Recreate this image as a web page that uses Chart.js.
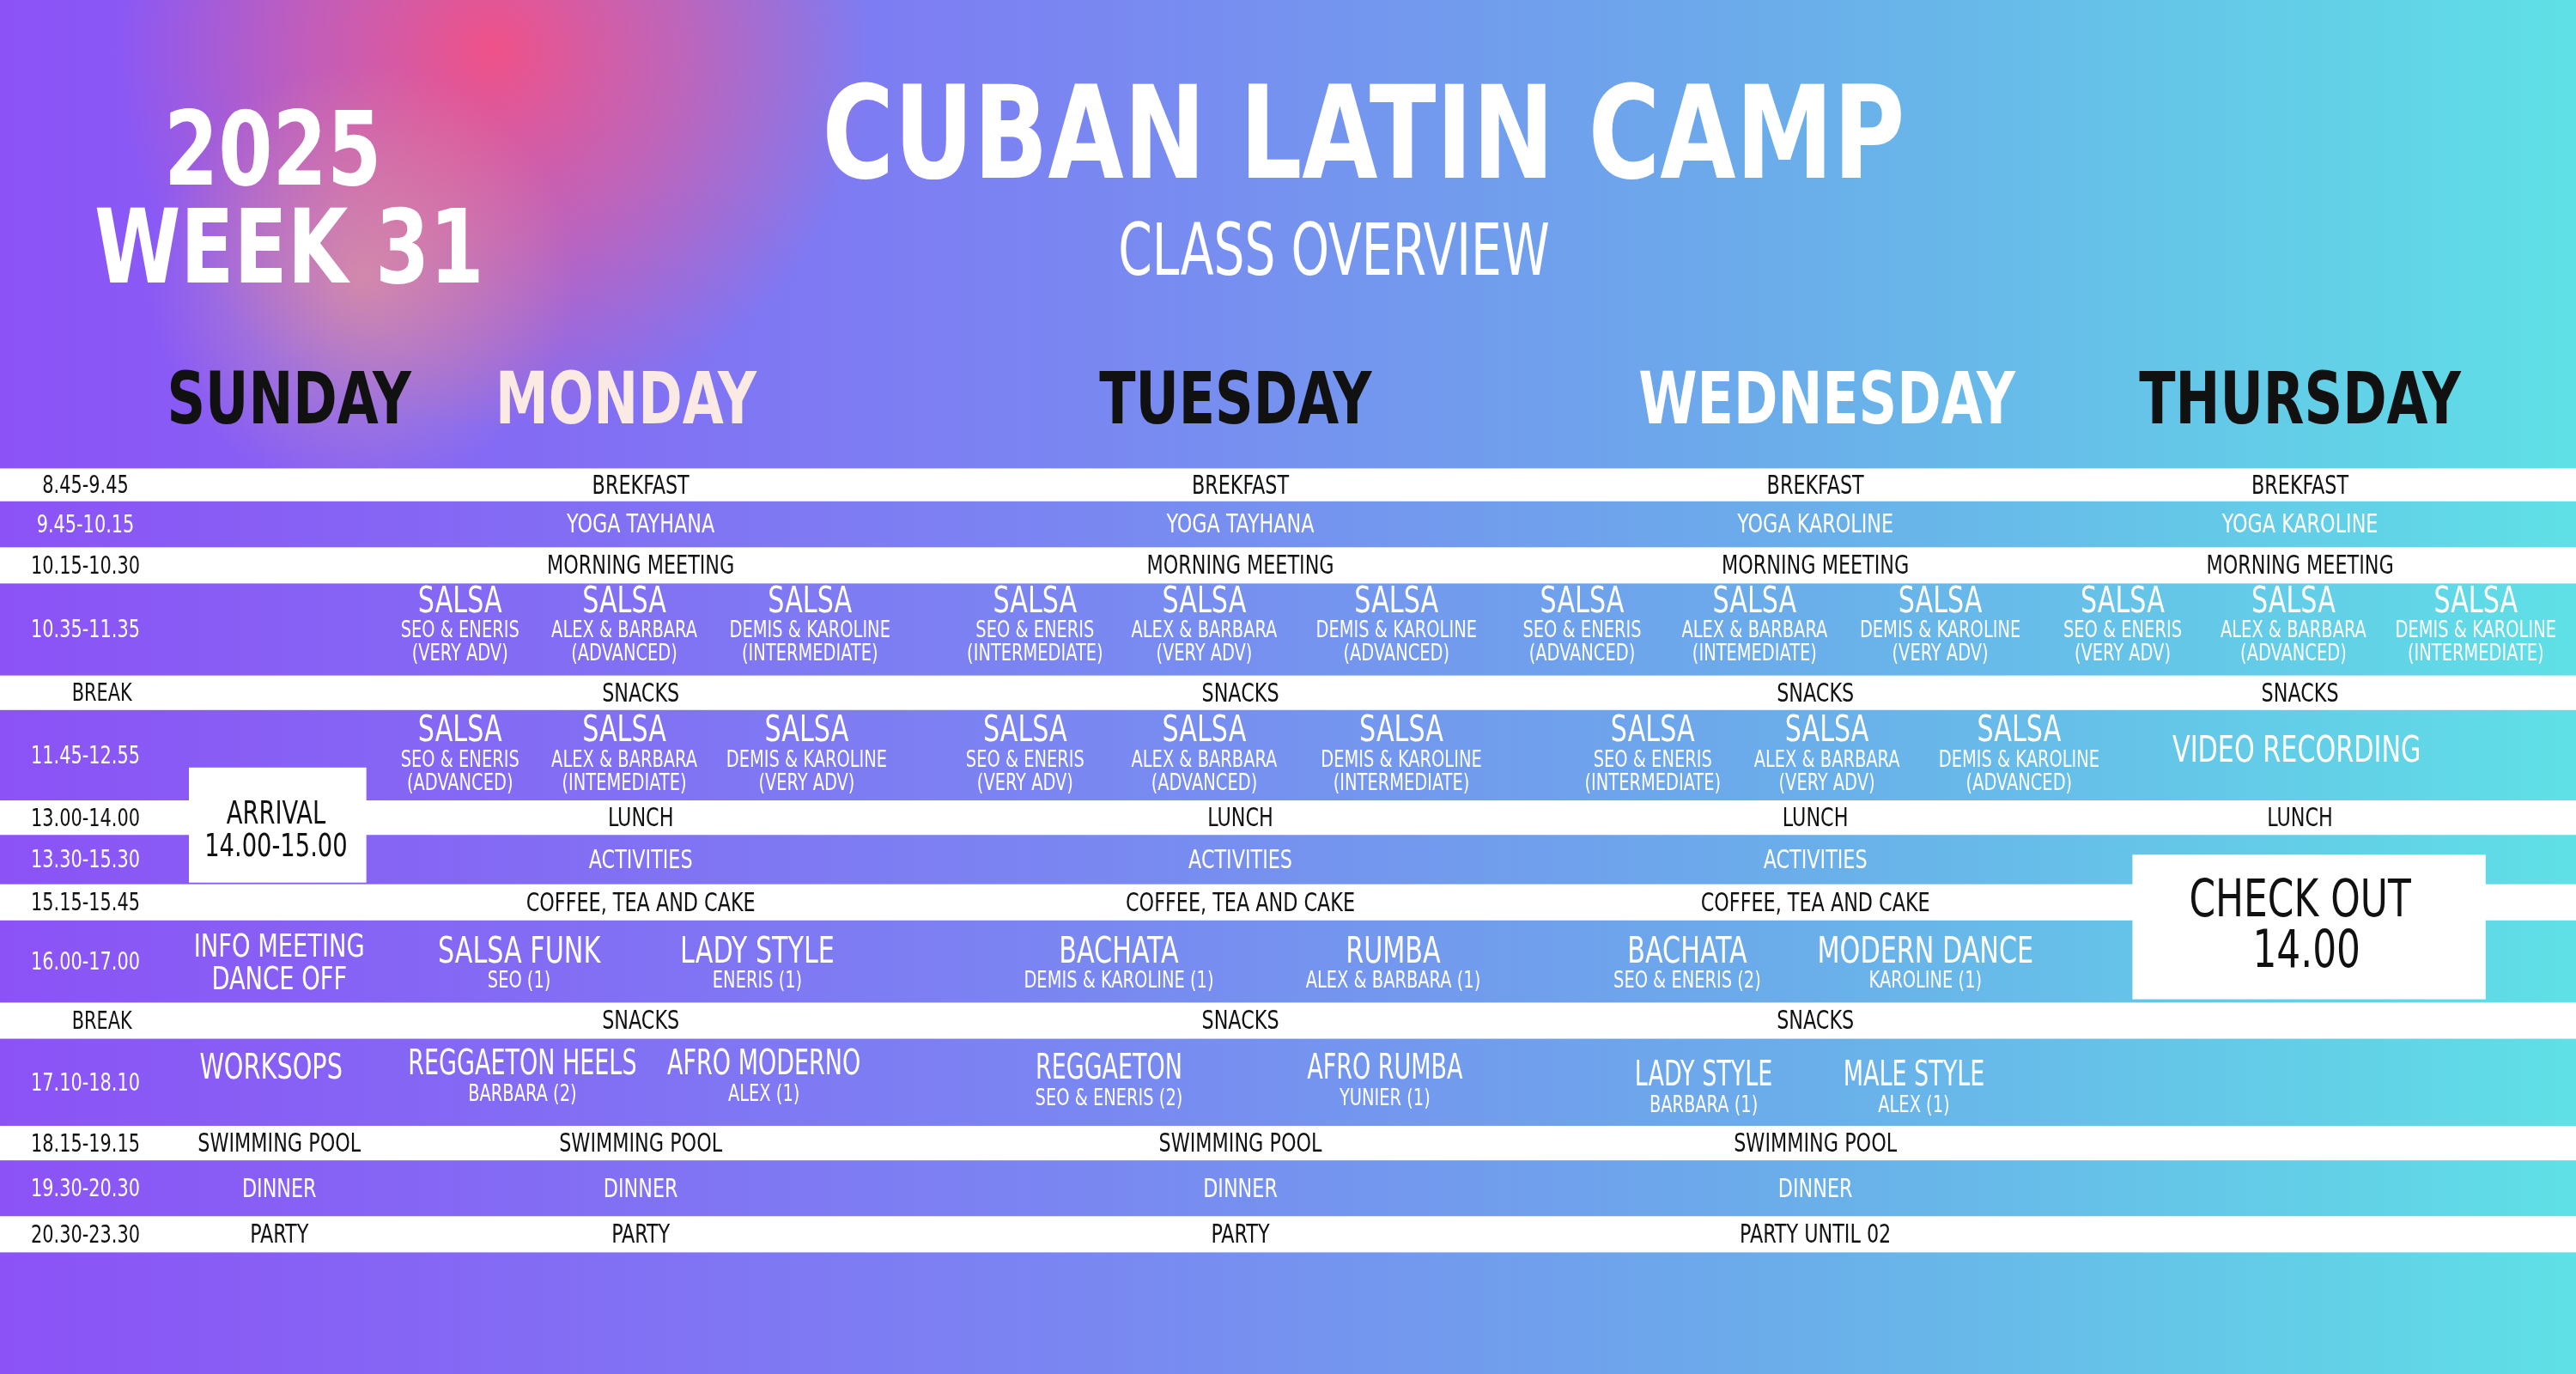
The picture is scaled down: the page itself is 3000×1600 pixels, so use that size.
<!DOCTYPE html>
<html><head><meta charset="utf-8">
<script src="https://cdn.jsdelivr.net/npm/chart.js@4.4.1/dist/chart.umd.min.js"></script>
<style>html,body{margin:0;padding:0;background:#7a80f0}canvas{display:block}</style>
</head><body>
<canvas id="c" width="3000" height="1600" style="width:3000px;height:1600px"></canvas>
<script>
// ---------- DATA ----------
const title = 'CUBAN LATIN CAMP';
const subtitle = 'CLASS OVERVIEW';
const yearLabel = '2025';
const weekLabel = 'WEEK 31';
const days = ['SUNDAY','MONDAY','TUESDAY','WEDNESDAY','THURSDAY'];
const times = ['8.45-9.45','9.45-10.15','10.15-10.30','10.35-11.35','BREAK','11.45-12.55','13.00-14.00','13.30-15.30','15.15-15.45','16.00-17.00','BREAK','17.10-18.10','18.15-19.15','19.30-20.30','20.30-23.30'];
// single-text rows: [row, sunday, monday, tuesday, wednesday, thursday]
const simpleRows = [
 [0,'','BREKFAST','BREKFAST','BREKFAST','BREKFAST'],
 [1,'','YOGA TAYHANA','YOGA TAYHANA','YOGA KAROLINE','YOGA KAROLINE'],
 [2,'','MORNING MEETING','MORNING MEETING','MORNING MEETING','MORNING MEETING'],
 [4,'','SNACKS','SNACKS','SNACKS','SNACKS'],
 [6,'','LUNCH','LUNCH','LUNCH','LUNCH'],
 [7,'','ACTIVITIES','ACTIVITIES','ACTIVITIES',''],
 [8,'','COFFEE, TEA AND CAKE','COFFEE, TEA AND CAKE','COFFEE, TEA AND CAKE',''],
 [10,'','SNACKS','SNACKS','SNACKS',''],
 [12,'SWIMMING POOL','SWIMMING POOL','SWIMMING POOL','SWIMMING POOL',''],
 [13,'DINNER','DINNER','DINNER','DINNER',''],
 [14,'PARTY','PARTY','PARTY','PARTY UNTIL 02','']
];
const teachers = ['SEO & ENERIS','ALEX & BARBARA','DEMIS & KAROLINE'];
const salsaLevels1 = [['(VERY ADV)','(ADVANCED)','(INTERMEDIATE)'],['(INTERMEDIATE)','(VERY ADV)','(ADVANCED)'],['(ADVANCED)','(INTEMEDIATE)','(VERY ADV)'],['(VERY ADV)','(ADVANCED)','(INTERMEDIATE)']];
const salsaLevels2 = [['(ADVANCED)','(INTEMEDIATE)','(VERY ADV)'],['(VERY ADV)','(ADVANCED)','(INTERMEDIATE)'],['(INTERMEDIATE)','(VERY ADV)','(ADVANCED)']];
const afternoonClasses = [ // row 9
 [['SALSA FUNK','SEO (1)'],['LADY STYLE','ENERIS (1)']],
 [['BACHATA','DEMIS & KAROLINE (1)'],['RUMBA','ALEX & BARBARA (1)']],
 [['BACHATA','SEO & ENERIS (2)'],['MODERN DANCE','KAROLINE (1)']]
];
const eveningClasses = [ // row 11
 [['REGGAETON HEELS','BARBARA (2)'],['AFRO MODERNO','ALEX (1)']],
 [['REGGAETON','SEO & ENERIS (2)'],['AFRO RUMBA','YUNIER (1)']],
 [['LADY STYLE','BARBARA (1)'],['MALE STYLE','ALEX (1)']]
];
const sundayItems = ['ARRIVAL','14.00-15.00','INFO MEETING','DANCE OFF','WORKSOPS'];
const thursdayItems = ['VIDEO RECORDING','CHECK OUT','14.00'];

// ---------- LAYOUT (reference units 1568x836) ----------
const L = {
 rowTop:[285,305,333,355,411,432,487,508,538,560,610,632,685,706,740], rowBot:762,
 dayX:[170,390,755,1105,1400], headX:[176,381,752,1112,1400],
 sub3:[[280,380,493],[630,733,850],[963,1068,1181],[1292,1396,1507]],
 sub3b:[[280,380,491],[624,733,853],[1006,1112,1229]],
 sub2:[[316,461],[681,848],[1027,1172]],
 sub2b:[[318,465],[675,843],[1037,1165]]
};
const FONT = '"DejaVu Sans Condensed","Liberation Sans Narrow",sans-serif';

const schedulePlugin = {
 id:'schedule',
 beforeDraw(ch){
  const c=ch.ctx, W=ch.width, H=ch.height;
  const g=c.createLinearGradient(0,0,W,0);
  g.addColorStop(0,'#8c52f6');g.addColorStop(0.4,'#7b84f2');g.addColorStop(0.7,'#6aaeea');g.addColorStop(1,'#5fe0e6');
  c.fillStyle=g;c.fillRect(0,0,W,H);
  const k=W/1568;
  let r=c.createRadialGradient(300*k,30*k,0,300*k,30*k,230*k);
  r.addColorStop(0,'rgba(245,80,130,0.95)');r.addColorStop(0.5,'rgba(240,90,140,0.55)');r.addColorStop(1,'rgba(240,90,140,0)');
  c.fillStyle=r;c.fillRect(0,0,W,H);
  r=c.createRadialGradient(220*k,170*k,0,220*k,170*k,130*k);
  r.addColorStop(0,'rgba(245,170,140,0.55)');r.addColorStop(1,'rgba(245,170,140,0)');
  c.fillStyle=r;c.fillRect(0,0,W,H);
 },
 afterDraw(ch){
  const c=ch.ctx, X=ch.scales.x, Y=ch.scales.y, k=ch.width/1568;
  const px=v=>X.getPixelForValue(v), py=v=>Y.getPixelForValue(v);
  const rect=(x0,y0,x1,y1,col)=>{c.fillStyle=col;c.fillRect(px(x0),py(y0),px(x1)-px(x0),py(y1)-py(y0));};
  const txt=(s,x,y,size,col,weight,sq)=>{c.save();c.translate(px(x),py(y));c.scale(sq||0.8,1);c.font=(weight||'normal')+' '+Math.round(size*k)+'px '+FONT;c.fillStyle=col;c.textAlign='center';c.textBaseline='middle';c.fillText(s,0,0);c.restore();};
  const whiteRows=[0,2,4,6,8,10,12,14];
  whiteRows.forEach(i=>rect(0,L.rowTop[i],1568,L.rowTop[i+1]!==undefined?L.rowTop[i+1]:L.rowBot,'#ffffff'));
  rect(115,467,223,537,'#ffffff');
  rect(1298,520,1513,608,'#ffffff');
  const mid=i=>(L.rowTop[i]+(i+1<L.rowTop.length?L.rowTop[i+1]:L.rowBot))/2;
  const isW=i=>whiteRows.includes(i);
  times.forEach((t,i)=>txt(t,i===4||i===10?62:52,mid(i)+1,15,isW(i)?'#111':'#fff'));
  txt(title,830,88,78,'#fff','bold',0.85);
  txt(subtitle,812,156,44,'#fff','normal',0.75);
  txt(yearLabel,166,96,62,'#fff','bold',0.85);
  txt(weekLabel,176,156,62,'#fff','bold',0.85);
  const hc=['#111','#fbe9e4','#111','#fff','#111'];
  days.forEach((d,i)=>txt(d,L.headX[i],246,44,hc[i],'bold',0.82));
  simpleRows.forEach(r=>{const i=r[0];for(let d=0;d<5;d++){if(r[d+1])txt(r[d+1],L.dayX[d],mid(i)+1,16,isW(i)?'#111':'#fff');}});
  salsaLevels1.forEach((lv,d)=>lv.forEach((l,j)=>{const x=L.sub3[d][j];txt('SALSA',x,367,22,'#fff');txt(teachers[j],x,384,14,'#fff','normal',0.8);txt(l,x,398,14,'#fff','normal',0.8);}));
  salsaLevels2.forEach((lv,d)=>lv.forEach((l,j)=>{const x=L.sub3b[d][j];txt('SALSA',x,445,22,'#fff');txt(teachers[j],x,463,14,'#fff','normal',0.8);txt(l,x,477,14,'#fff','normal',0.8);}));
  txt(thursdayItems[0],1398,458,22,'#fff');
  txt(sundayItems[0],168,496,20,'#111');txt(sundayItems[1],168,516,20,'#111');
  txt(thursdayItems[1],1400,549,32,'#111');txt(thursdayItems[2],1404,580,32,'#111');
  txt(sundayItems[2],170,577,20,'#fff');txt(sundayItems[3],170,597,20,'#fff');
  afternoonClasses.forEach((cl,d)=>cl.forEach((p,j)=>{const x=L.sub2[d][j];txt(p[0],x,580,22,'#fff');txt(p[1],x,597,14,'#fff','normal',0.8);}));
  txt(sundayItems[4],165,651,21,'#fff');
  eveningClasses.forEach((cl,d)=>cl.forEach((p,j)=>{const x=L.sub2b[d][j];const y=d===2?655:(d===1?651:648);txt(p[0],x,y,21,'#fff','normal',0.75);txt(p[1],x,y+18,14,'#fff','normal',0.8);}));
 }
};

new Chart(document.getElementById('c'),{
 type:'scatter',
 data:{datasets:[{data:[]}]},
 options:{responsive:false,devicePixelRatio:1,animation:false,
  layout:{padding:0},
  plugins:{legend:{display:false},tooltip:{enabled:false}},
  scales:{x:{type:'linear',min:0,max:1568,display:false},y:{type:'linear',min:0,max:836,reverse:true,display:false}}},
 plugins:[schedulePlugin]
});
</script>
</body></html>
